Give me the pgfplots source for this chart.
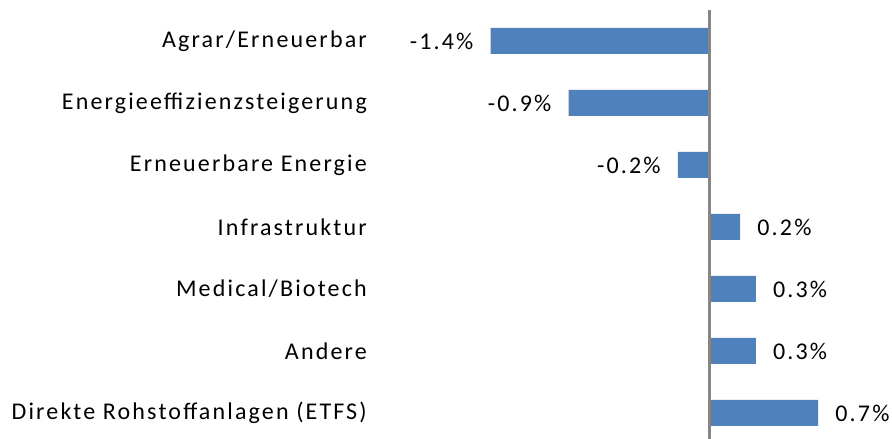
\documentclass[border=0pt]{standalone}
\usepackage{fontspec}
\setmainfont{Carlito}[LetterSpace=9]
\usepackage{pgfplots}
\pgfplotsset{compat=1.18}
\definecolor{barblue}{HTML}{4F81BD}
\definecolor{axgray}{HTML}{868686}
\begin{document}
\begin{tikzpicture}
\begin{axis}[
  scale only axis, width=517pt, height=429pt,
  xmin=-2.141, xmax=1.173, ymin=-0.42, ymax=6.5,
  xbar, bar width=26pt, bar shift=0pt,
  axis line style={draw=none},
  xtick=\empty, ytick={0,...,6},
  yticklabels={Direkte Rohstoffanlagen (ETFS), Andere, Medical/Biotech, Infrastruktur, Erneuerbare Energie, Energieeffizienzsteigerung, Agrar/Erneuerbar},
  major tick length=0pt,
  yticklabel style={font=\fontsize{24}{24}\selectfont, anchor=east, inner sep=0pt, xshift=-8pt},
  nodes near coords, point meta=explicit symbolic,
  every node near coord/.append style={font=\fontsize{24}{24}\selectfont, inner sep=0pt},
  clip=false,
]
\coordinate (ll) at (rel axis cs:0,0);
\coordinate (ur) at (rel axis cs:1,1);
\addplot[fill=barblue, draw=none, every node near coord/.append style={anchor=east, xshift=-17pt}]
  coordinates {(-1.4,6) [-1.4\%] (-0.9,5) [-0.9\%] (-0.2,4) [-0.2\%]};
\addplot[fill=barblue, draw=none, every node near coord/.append style={anchor=west, xshift=17pt}]
  coordinates {(0.2,3) [0.2\%] (0.3,2) [0.3\%] (0.3,1) [0.3\%] (0.7,0) [0.7\%]};
\draw[axgray, line width=3pt] (axis cs:0,-0.42) -- (axis cs:0,6.5);
\end{axis}
\pgfresetboundingbox
\useasboundingbox ([xshift=-375pt]ll) rectangle ([yshift=10pt]ur);
\end{tikzpicture}
\end{document}
